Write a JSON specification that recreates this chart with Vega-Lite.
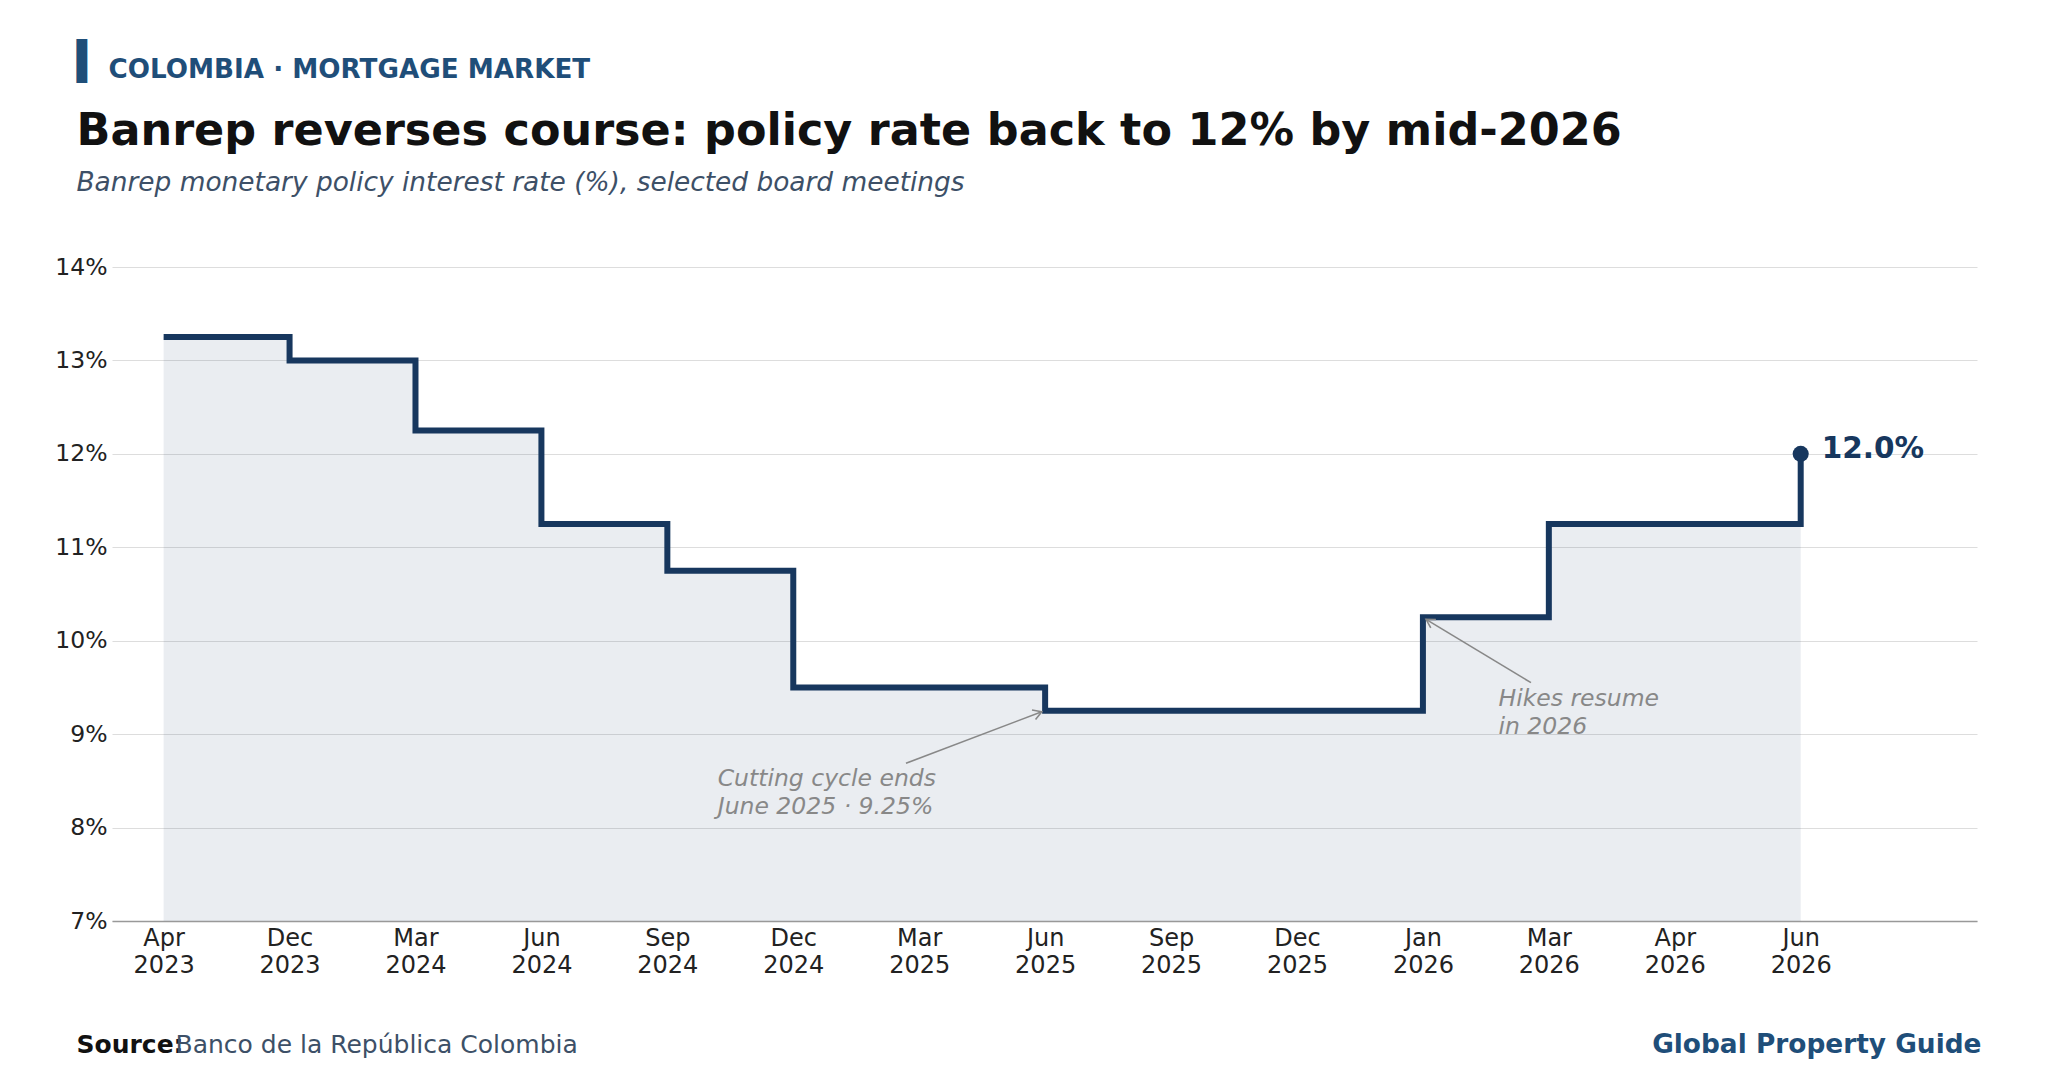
{
  "$schema": "https://vega.github.io/schema/vega-lite/v6.json",
  "width": 1865,
  "height": 654,
  "autosize": {"type": "none"},
  "padding": {"left": 112, "top": 267, "right": 83, "bottom": 169},
  "background": "white",
  "config": {"view": {"stroke": null}, "font": "DejaVu Sans", "axis": {"titleLimit": 3000, "titlePadding": 0}},
  "datasets": {
    "rates": [
      {"i": 0, "meeting": "Apr 2023", "rate": 13.25},
      {"i": 1, "meeting": "Dec 2023", "rate": 13.0},
      {"i": 2, "meeting": "Mar 2024", "rate": 12.25},
      {"i": 3, "meeting": "Jun 2024", "rate": 11.25},
      {"i": 4, "meeting": "Sep 2024", "rate": 10.75},
      {"i": 5, "meeting": "Dec 2024", "rate": 9.5},
      {"i": 6, "meeting": "Mar 2025", "rate": 9.5},
      {"i": 7, "meeting": "Jun 2025", "rate": 9.25},
      {"i": 8, "meeting": "Sep 2025", "rate": 9.25},
      {"i": 9, "meeting": "Dec 2025", "rate": 9.25},
      {"i": 10, "meeting": "Jan 2026", "rate": 10.25},
      {"i": 11, "meeting": "Mar 2026", "rate": 11.25},
      {"i": 12, "meeting": "Apr 2026", "rate": 11.25},
      {"i": 13, "meeting": "Jun 2026", "rate": 12.0}
    ],
    "notes": [
      {"note": "cut", "text": "Cutting cycle ends\nJune 2025 · 9.25%", "tx": 4.40, "ty": 8.445, "ax": 5.895, "ay": 8.688, "hx": 6.973, "hy": 9.24},
      {"note": "hike", "text": "Hikes resume\nin 2026", "tx": 10.60, "ty": 9.30, "ax": 10.858, "ay": 9.551, "hx": 10.025, "hy": 10.229}
    ]
  },
  "resolve": {"axis": {"x": "independent", "y": "independent"}},
  "layer": [
    {
      "data": {"name": "rates"},
      "mark": {"type": "area", "interpolate": "step-after", "color": "#1b3a5f", "opacity": 0.09},
      "encoding": {
        "x": {
          "field": "i", "type": "quantitative",
          "scale": {"domain": [-0.41, 14.4], "nice": false, "zero": false},
          "axis": {
            "orient": "bottom", "values": [0, 1, 2, 3, 4, 5, 6, 7, 8, 9, 10, 11, 12, 13],
            "labelExpr": "split(['Apr 2023','Dec 2023','Mar 2024','Jun 2024','Sep 2024','Dec 2024','Mar 2025','Jun 2025','Sep 2025','Dec 2025','Jan 2026','Mar 2026','Apr 2026','Jun 2026'][datum.value], ' ')",
            "grid": false, "ticks": false, "domain": true, "domainColor": "#999999", "domainWidth": 1.5,
            "labelFont": "DejaVu Sans", "labelFontSize": 24, "labelColor": "#222222", "labelBaseline": "top",
            "labelPadding": 5, "labelLineHeight": 27.5, "labelFlush": false, "labelOverlap": false,
            "title": "Source:", "titleX": -36, "titleY": 131, "titleAlign": "left", "titleBaseline": "alphabetic",
            "titleFont": "DejaVu Sans", "titleFontSize": 25, "titleFontWeight": "bold", "titleColor": "#111111"
          }
        },
        "y": {
          "field": "rate", "type": "quantitative",
          "scale": {"domain": [7, 14], "nice": false, "zero": false},
          "axis": {
            "orient": "left", "values": [7, 8, 9, 10, 11, 12, 13, 14], "labelExpr": "datum.value + '%'",
            "grid": true, "gridColor": "#dddddd", "gridWidth": 1.2, "ticks": false, "domain": false,
            "labelFont": "DejaVu Sans", "labelFontSize": 23.5, "labelPadding": 5, "labelColor": "#222222",
            "title": "COLOMBIA · MORTGAGE MARKET", "titleAngle": 0, "titleX": -4, "titleY": -190,
            "titleAlign": "left", "titleBaseline": "alphabetic", "titleFont": "DejaVu Sans",
            "titleFontSize": 26.2, "titleFontWeight": "bold", "titleColor": "#1f4e79"
          }
        },
        "y2": {"datum": 7}
      }
    },
    {
      "data": {"name": "rates"},
      "mark": {"type": "line", "interpolate": "step-after", "color": "#17375e", "strokeWidth": 6},
      "encoding": {
        "x": {
          "field": "i", "type": "quantitative",
          "scale": {"domain": [-0.41, 14.4], "nice": false, "zero": false},
          "axis": {
            "orient": "bottom", "labels": false, "ticks": false, "domain": false, "grid": false,
            "title": "Banco de la República Colombia", "titleX": 63, "titleY": 131, "titleAlign": "left",
            "titleBaseline": "alphabetic", "titleFont": "DejaVu Sans", "titleFontSize": 25,
            "titleFontWeight": "normal", "titleColor": "#3d5067"
          }
        },
        "y": {
          "field": "rate", "type": "quantitative",
          "scale": {"domain": [7, 14], "nice": false, "zero": false},
          "axis": {
            "orient": "left", "labels": false, "ticks": false, "domain": false, "grid": false,
            "title": "▍", "titleAngle": 0, "titleX": -36, "titleY": -194, "titleAlign": "left",
            "titleBaseline": "alphabetic", "titleFont": "DejaVu Sans", "titleFontSize": 37,
            "titleFontWeight": "normal", "titleColor": "#1f4e79"
          }
        }
      }
    },
    {
      "data": {"name": "rates"},
      "transform": [{"filter": "datum.i == 13"}],
      "mark": {"type": "circle", "size": 260, "color": "#17375e", "opacity": 1},
      "encoding": {
        "x": {
          "field": "i", "type": "quantitative",
          "scale": {"domain": [-0.41, 14.4], "nice": false, "zero": false},
          "axis": {
            "orient": "bottom", "labels": false, "ticks": false, "domain": false, "grid": false,
            "title": "Global Property Guide", "titleX": 1869, "titleY": 131, "titleAlign": "right",
            "titleBaseline": "alphabetic", "titleFont": "DejaVu Sans", "titleFontSize": 26.4,
            "titleFontWeight": "bold", "titleColor": "#1f4e79"
          }
        },
        "y": {
          "field": "rate", "type": "quantitative",
          "scale": {"domain": [7, 14], "nice": false, "zero": false},
          "axis": {
            "orient": "left", "labels": false, "ticks": false, "domain": false, "grid": false,
            "title": "Banrep reverses course: policy rate back to 12% by mid-2026", "titleAngle": 0,
            "titleX": -36, "titleY": -123, "titleAlign": "left", "titleBaseline": "alphabetic",
            "titleFont": "DejaVu Sans", "titleFontSize": 44.5, "titleFontWeight": "bold", "titleColor": "#111111"
          }
        }
      }
    },
    {
      "data": {"name": "rates"},
      "transform": [{"filter": "datum.i == 13"}],
      "mark": {"type": "text", "text": "12.0%", "align": "left", "baseline": "alphabetic", "dx": 21, "dy": 4,
        "font": "DejaVu Sans", "fontSize": 29.5, "fontWeight": "bold", "color": "#17375e"},
      "encoding": {
        "x": {"field": "i", "type": "quantitative", "scale": {"domain": [-0.41, 14.4], "nice": false, "zero": false}, "axis": null},
        "y": {
          "field": "rate", "type": "quantitative",
          "scale": {"domain": [7, 14], "nice": false, "zero": false},
          "axis": {
            "orient": "left", "labels": false, "ticks": false, "domain": false, "grid": false,
            "title": "Banrep monetary policy interest rate (%), selected board meetings", "titleAngle": 0,
            "titleX": -36, "titleY": -77, "titleAlign": "left", "titleBaseline": "alphabetic",
            "titleFont": "DejaVu Sans", "titleFontSize": 26.4, "titleFontWeight": "normal",
            "titleFontStyle": "italic", "titleColor": "#3d5067"
          }
        }
      }
    },
    {
      "data": {"name": "notes"},
      "mark": {"type": "rule", "color": "#888888", "strokeWidth": 1.6},
      "encoding": {
        "x": {"field": "ax", "type": "quantitative", "scale": {"domain": [-0.41, 14.4], "nice": false, "zero": false}, "axis": null},
        "y": {"field": "ay", "type": "quantitative", "scale": {"domain": [7, 14], "nice": false, "zero": false}, "axis": null},
        "x2": {"field": "hx"},
        "y2": {"field": "hy"}
      }
    },
    {
      "data": {"name": "notes"},
      "transform": [{"filter": "datum.note == 'cut'"}],
      "mark": {"type": "point", "shape": "M-0.85,-0.5L0,0L-0.85,0.5", "filled": false, "color": "#888888", "strokeWidth": 1.6, "size": 400, "angle": -20.8, "opacity": 1},
      "encoding": {
        "x": {"field": "hx", "type": "quantitative", "scale": {"domain": [-0.41, 14.4], "nice": false, "zero": false}, "axis": null},
        "y": {"field": "hy", "type": "quantitative", "scale": {"domain": [7, 14], "nice": false, "zero": false}, "axis": null}
      }
    },
    {
      "data": {"name": "notes"},
      "transform": [{"filter": "datum.note == 'hike'"}],
      "mark": {"type": "point", "shape": "M-0.85,-0.5L0,0L-0.85,0.5", "filled": false, "color": "#888888", "strokeWidth": 1.6, "size": 400, "angle": 211.1, "opacity": 1},
      "encoding": {
        "x": {"field": "hx", "type": "quantitative", "scale": {"domain": [-0.41, 14.4], "nice": false, "zero": false}, "axis": null},
        "y": {"field": "hy", "type": "quantitative", "scale": {"domain": [7, 14], "nice": false, "zero": false}, "axis": null}
      }
    },
    {
      "data": {"name": "notes"},
      "mark": {"type": "text", "align": "left", "baseline": "alphabetic", "font": "DejaVu Sans", "fontStyle": "italic",
        "fontSize": 23.5, "lineHeight": 28, "lineBreak": "\n", "color": "#888888"},
      "encoding": {
        "x": {"field": "tx", "type": "quantitative", "scale": {"domain": [-0.41, 14.4], "nice": false, "zero": false}, "axis": null},
        "y": {"field": "ty", "type": "quantitative", "scale": {"domain": [7, 14], "nice": false, "zero": false}, "axis": null},
        "text": {"field": "text"}
      }
    }
  ]
}
